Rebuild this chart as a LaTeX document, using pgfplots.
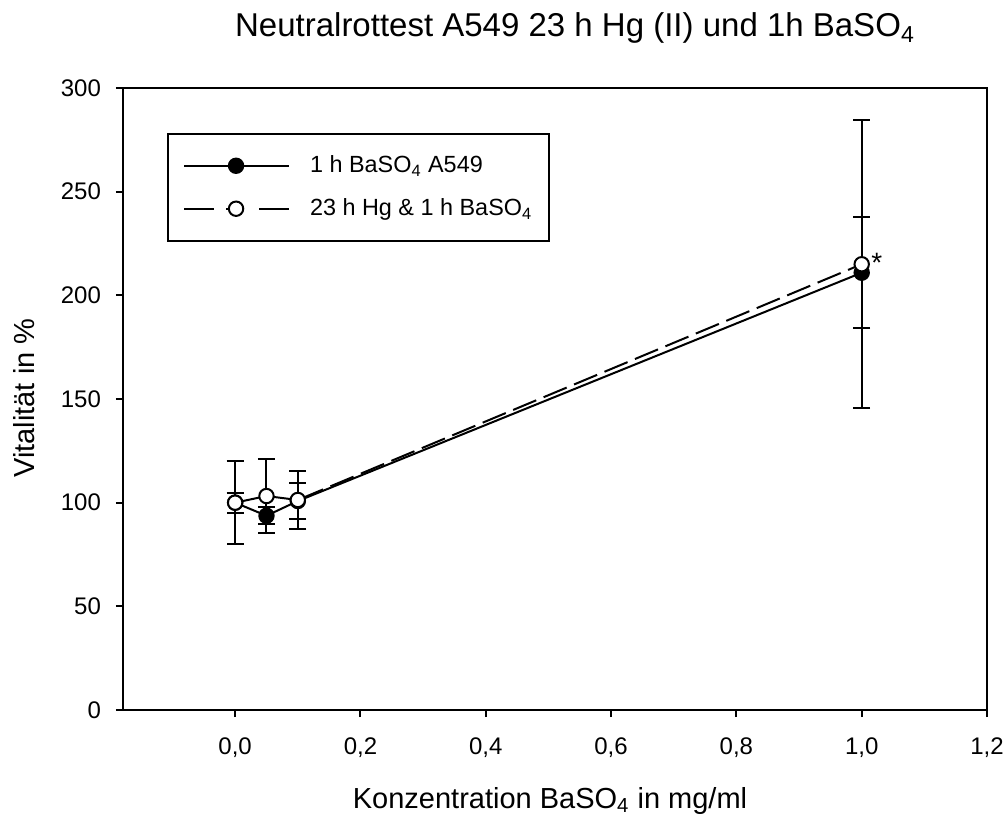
\documentclass[border=0pt]{standalone}
\usepackage{pgfplots}
\pgfplotsset{compat=1.18}
\usepackage{fontspec}
\setmainfont{Liberation Sans}
\begin{document}
\begin{tikzpicture}[x=1pt,y=1pt]
\begin{axis}[
  at={(0,0)}, anchor=south west,
  scale only axis, width=432pt, height=311pt,
  xmin=-0.179, xmax=1.2, ymin=0, ymax=300,
  axis line style={line width=1pt},
  tick style={line width=1pt, black},
  major tick length=3.5pt,
  tick align=outside,
  xtick pos=bottom, ytick pos=left,
  xtick={0,0.2,0.4,0.6,0.8,1.0,1.2},
  xticklabels={{0,0},{0,2},{0,4},{0,6},{0,8},{1,0},{1,2}},
  ytick={0,50,100,150,200,250,300},
  /pgf/number format/assume math mode=true,
  tick label style={font=\fontsize{12}{14}\selectfont},
  xticklabel style={yshift=-7pt},
  yticklabel style={xshift=-4pt},
  legend style={at={(rel axis cs:0.051,0.928)}, anchor=north west,
    draw=black, line width=1pt, font=\fontsize{11.7}{14}\selectfont,
    inner xsep=5pt, inner ysep=9pt, row sep=7.5pt,
    nodes={inner xsep=3.5pt},
    /tikz/every odd column/.append style={column sep=6.5pt}},
  legend cell align=left,
  clip=false,
]
\addplot[black, line width=1pt, mark=*, mark size=3.6pt,
  mark options={solid, fill=black, draw=black, line width=1pt},
  legend image code/.code={
    \path[draw=none, fill=none] (0pt,0pt) rectangle (55.5pt,0.1pt);
    \draw[black, line width=1pt, solid] (3pt,0pt) -- (55.5pt,0pt);
    \fill[black] (29pt,0pt) circle (3.6pt);},
  error bars/.cd, y dir=both, y explicit,
  error bar style={line width=1pt, solid},
  error mark options={rotate=90, mark size=4.25pt, line width=1pt, solid}]
  coordinates {
  (0,100) +- (0,4.8)
  (0.05,93.7) +- (0,4.2)
  (0.1,100.8) +- (0,8.5)
  (1,210.9) +- (0,26.8)
};
\addlegendentry{1 h BaSO\textsubscript{4} A549}
\addplot[black, line width=1pt, dash pattern=on 12.5pt off 4pt, mark=*, mark size=3.6pt,
  mark options={solid, fill=white, draw=black, line width=1pt},
  legend image code/.code={
    \path[draw=none, fill=none] (0pt,0pt) rectangle (55.5pt,0.1pt);
    \draw[black, line width=1pt, solid] (3pt,0pt) -- (18pt,0pt);
    \draw[black, line width=1pt, solid] (24pt,0pt) -- (29pt,0pt);
    \draw[black, line width=1pt, solid] (40.5pt,0pt) -- (55.5pt,0pt);
    \filldraw[fill=white, draw=black, line width=1pt, solid] (29pt,0pt) circle (3.6pt);},
  error bars/.cd, y dir=both, y explicit,
  error bar style={line width=1pt, solid},
  error mark options={rotate=90, mark size=4.25pt, line width=1pt, solid}]
  coordinates {
  (0,100) +- (0,20)
  (0.05,103.2) +- (0,18)
  (0.1,101.3) +- (0,14)
  (1,215) +- (0,69.5)
};
\addlegendentry{23 h Hg \& 1 h BaSO\textsubscript{4}}
\node[font=\fontsize{14}{15}\selectfont, anchor=base, inner sep=0pt] at (axis cs:1.024,211) {*};
\end{axis}
\node[font=\fontsize{16.5}{18}\selectfont, anchor=base, inner sep=0pt] at (226pt,336.5pt) {Neutralrottest A549 23 h Hg (II) und 1h BaSO\textsubscript{4}};
\node[font=\fontsize{14.5}{16}\selectfont, anchor=base, inner sep=0pt] at (213.5pt,-49pt) {Konzentration BaSO\textsubscript{4} in mg/ml};
\node[font=\fontsize{14.5}{16}\selectfont, rotate=90, inner sep=0pt] at (-49.5pt,156pt) {Vitalität in \%};
\pgfresetboundingbox
\path[use as bounding box] (-61.5pt,-52pt) rectangle (440.5pt,355pt);
\end{tikzpicture}
\end{document}
